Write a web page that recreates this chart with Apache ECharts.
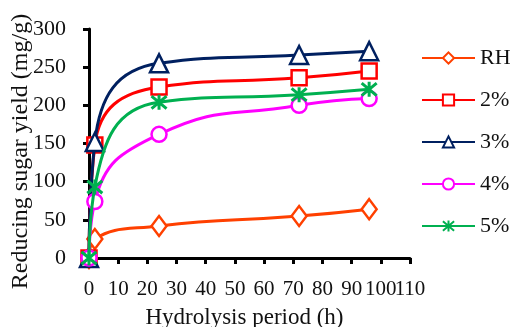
<!DOCTYPE html>
<html>
<head>
<meta charset="utf-8">
<script src="https://cdn.jsdelivr.net/npm/echarts@6/dist/echarts.min.js"></script>
<style>
html,body{margin:0;padding:0;background:#fff;}
#chart{width:514px;height:327px;}
</style>
</head>
<body>
<div id="chart"></div>
<script>
const hours = [0, 2, 24, 72, 96];
const seriesNames = ['RH', '2%', '3%', '4%', '5%'];
const rhValues = [0, 25, 42, 55, 64];
const p2Values = [0, 148, 224, 236, 245];
const p3Values = [0, 152, 255, 266, 271];
const p4Values = [0, 74, 162, 200, 209];
const p5Values = [0, 93, 204, 214, 221];
const xTicks = [0, 10, 20, 30, 40, 50, 60, 70, 80, 90, 100, 110];
const yTicks = [0, 50, 100, 150, 200, 250, 300];

const colors = ['#FF4000', '#FF0000', '#002060', '#FF00FF', '#00B050'];
const symbols = ['diamond', 'rect', 'triangle', 'circle', 'path://M0,0L10,10M10,0L0,10M5,-1L5,11'];
const sizes = [[15, 20], 15, [18, 18], 15, 15];
const allValues = [rhValues, p2Values, p3Values, p4Values, p5Values];

const font = 'Liberation Serif';
const lastTick = xTicks[xTicks.length - 1];
const xLabelStyle = { fontFamily: font, fontSize: 21, color: '#111', margin: 21 };
const chart = echarts.init(document.getElementById('chart'));
chart.setOption({
  animation: false,
  backgroundColor: '#fff',
  grid: { left: 89, right: 104, top: 29, bottom: 69, outerBoundsMode: 'none', containLabel: false },
  legend: {
    orient: 'vertical',
    left: 421,
    top: 47,
    padding: 0,
    itemWidth: 53,
    itemHeight: 14,
    itemGap: 20,
    textStyle: { fontFamily: font, fontSize: 22, color: '#111' },
    data: seriesNames
  },
  xAxis: [{
    type: 'value',
    min: 0, max: 110, interval: 10,
    name: 'Hydrolysis period (h)',
    nameLocation: 'middle',
    nameGap: 48,
    nameMoveOverlap: false,
    nameTextStyle: { fontFamily: font, fontSize: 23, color: '#111', padding: [0, 10, 0, 0] },
    axisLine: { show: true, onZero: false, lineStyle: { color: '#000', width: 3 } },
    axisTick: { show: true, length: 6, lineStyle: { color: '#000', width: 3 } },
    axisLabel: Object.assign({ hideOverlap: false,
      formatter: v => (xTicks.includes(v) && v !== lastTick) ? String(v) : '' }, xLabelStyle),
    splitLine: { show: false }
  }, {
    type: 'value',
    position: 'bottom',
    gridIndex: 0,
    min: 0, max: 110, interval: 10,
    axisLine: { show: false, onZero: false },
    axisTick: { show: false },
    axisLabel: Object.assign({ hideOverlap: false,
      formatter: v => v === lastTick ? String(v) : '' }, xLabelStyle),
    splitLine: { show: false }
  }],
  yAxis: {
    type: 'value',
    min: 0, max: 300, interval: 50,
    name: 'Reducing sugar yield (mg/g)',
    nameLocation: 'middle',
    nameGap: 56,
    nameMoveOverlap: false,
    nameTextStyle: { fontFamily: font, fontSize: 24, color: '#111', padding: [0, 16, 0, 0] },
    axisLine: { show: true, onZero: false, lineStyle: { color: '#000', width: 3 } },
    axisTick: { show: true, length: 6, lineStyle: { color: '#000', width: 3 } },
    axisLabel: { fontFamily: font, fontSize: 22, color: '#111', margin: 23,
      formatter: v => yTicks.includes(v) ? String(v) : '' },
    splitLine: { show: false }
  },
  series: seriesNames.map((name, i) => ({
    name: name,
    type: 'line',
    xAxisIndex: 0,
    smooth: 0.5,
    data: hours.map((h, j) => [h, allValues[i][j]]),
    symbol: symbols[i],
    symbolSize: sizes[i],
    showAllSymbol: true,
    lineStyle: { color: colors[i], width: 3 },
    itemStyle: { color: i === 4 ? colors[i] : '#fff', borderColor: colors[i], borderWidth: i === 4 ? 3 : 2.5 },
    z: 2 + i
  }))
});
</script>
</body>
</html>
